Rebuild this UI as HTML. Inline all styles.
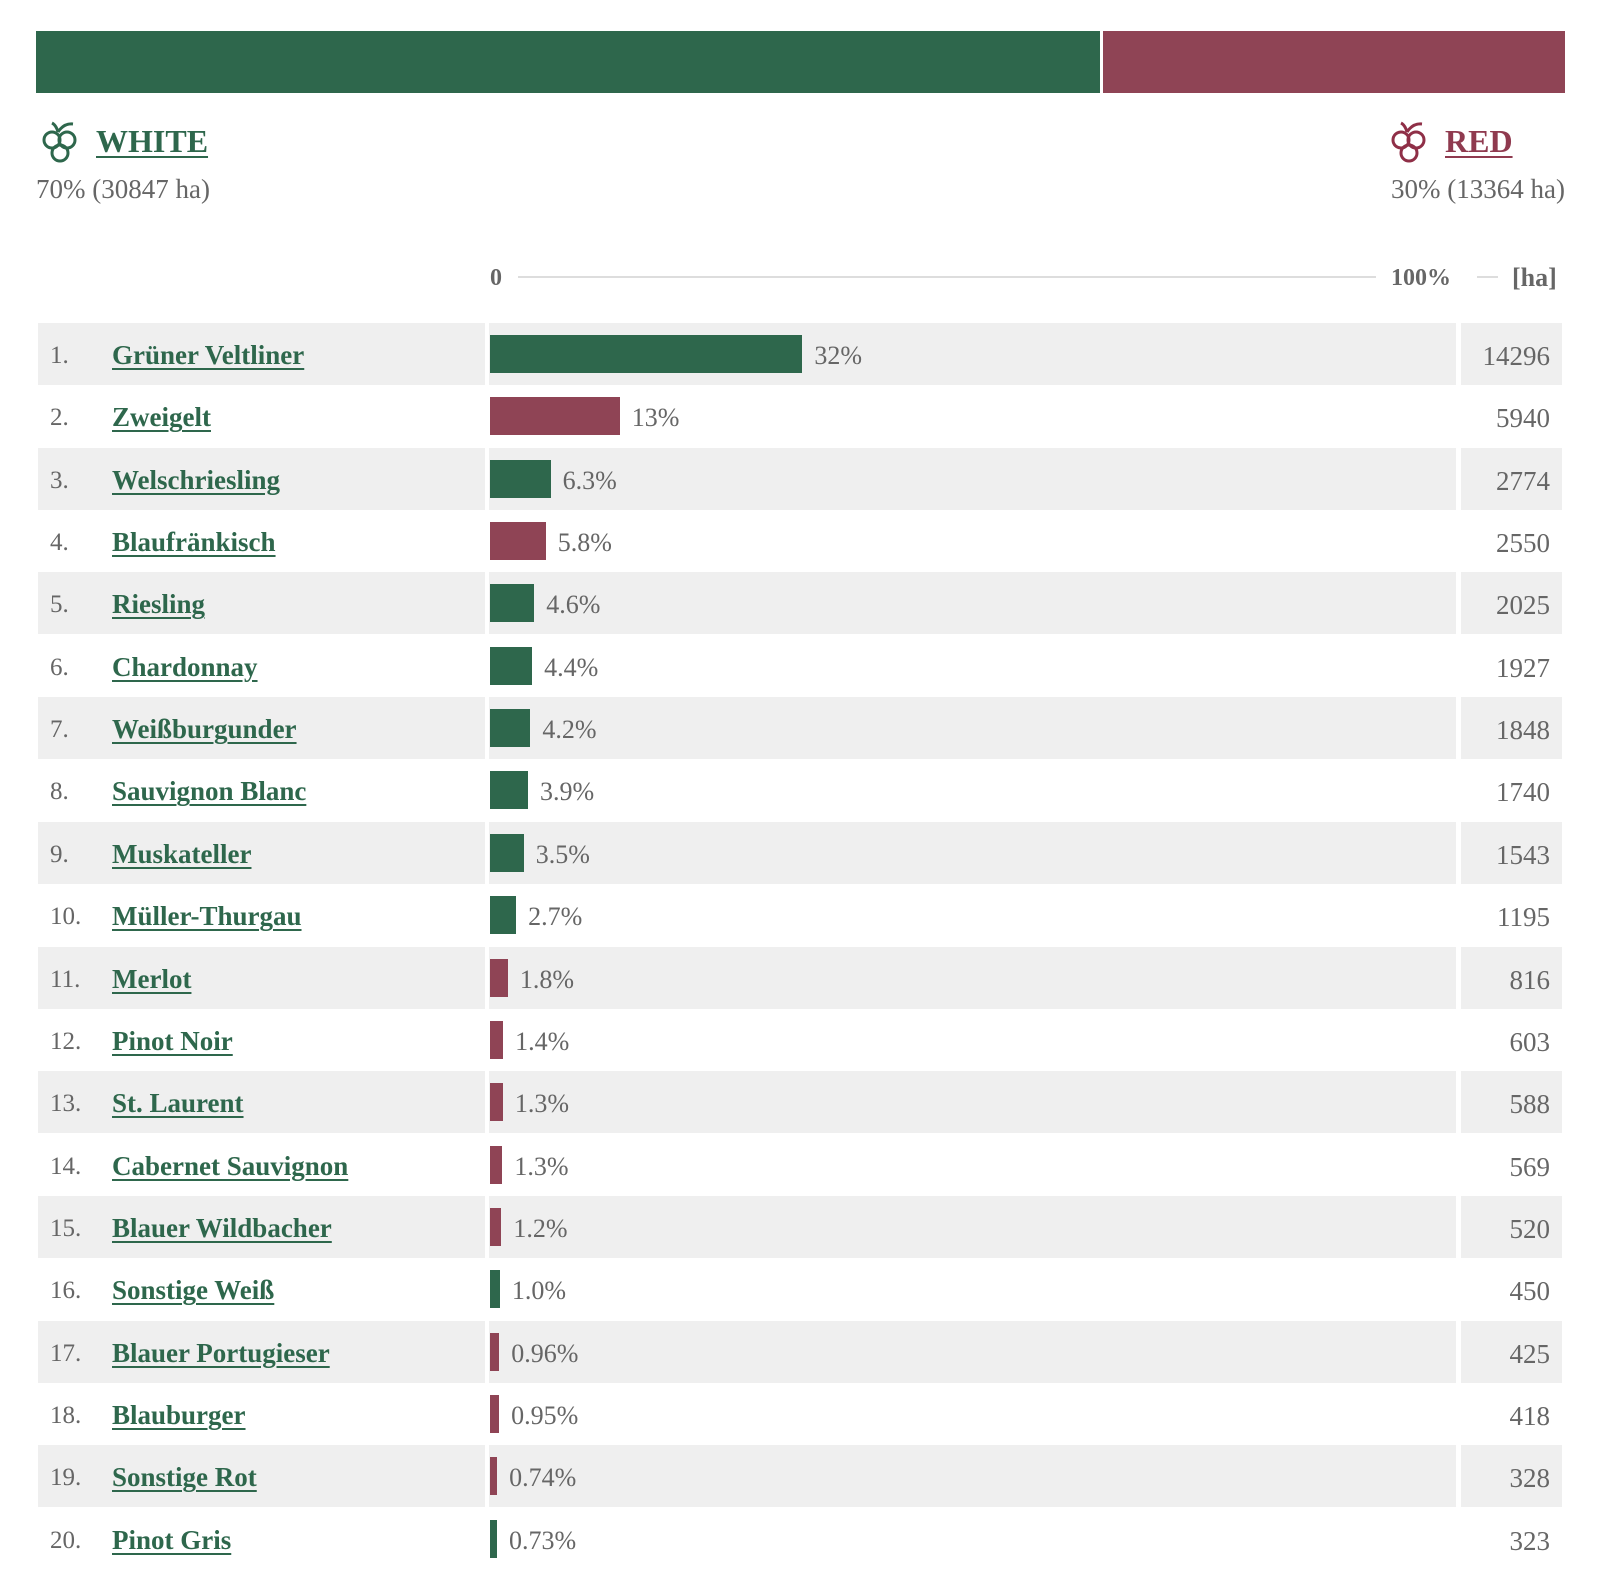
<!DOCTYPE html>
<html><head><meta charset="utf-8"><style>
*{margin:0;padding:0;box-sizing:border-box}
body{width:1600px;height:1571px;background:#fff;position:relative;overflow:hidden;font-family:"Liberation Serif","DejaVu Serif",serif;color:#595959}
.a{position:absolute}
.g{color:#2e674c}.r{color:#8f3a4f}
.hd{font-size:32px;font-weight:bold;text-decoration:underline;text-decoration-thickness:2px;text-underline-offset:4px;line-height:36px}
.sub{font-size:27px;line-height:30px;color:#666}
.row{position:absolute;left:0;width:1600px;height:62px}
.row .c1,.row .c2,.row .c3{position:absolute;top:0;height:62px}
.c1{left:38px;width:447px}.c2{left:489px;width:967px}.c3{left:1461px;width:101px}
.gr .c1,.gr .c2,.gr .c3{background:#efefef}
.num{position:absolute;left:12px;top:2px;line-height:62px;font-size:25px;color:#666}
.nm{position:absolute;left:74px;top:2px;line-height:60px;font-size:27px;font-weight:bold;color:#2e674c;text-decoration:underline;text-decoration-thickness:2px;text-underline-offset:4px}
.bar{position:absolute;left:1px;top:12px;height:38px}
.pct{position:absolute;top:2px;line-height:62px;font-size:26px;color:#666}
.val{position:absolute;right:12px;top:2px;line-height:62px;font-size:27px;color:#666}
</style></head><body>
<div class="a" style="left:36px;top:31px;width:1064px;height:62px;background:#2e674c"></div>
<div class="a" style="left:1103px;top:31px;width:462px;height:62px;background:#8f4455"></div>

<svg class="a" style="left:40px;top:120px" width="42" height="44" viewBox="0 0 42 44" fill="none" stroke="#2e674c" stroke-width="3"><circle cx="12" cy="20" r="8"/><circle cx="27" cy="20" r="8"/><circle cx="20" cy="33" r="8"/><path d="M18 12 Q16 5 12 3 M18 12 Q24 3 33 4"/></svg>
<div class="a hd g" style="left:96px;top:123px">WHITE</div>
<div class="a sub" style="left:36px;top:174px">70% (30847 ha)</div>

<svg class="a" style="left:1389px;top:120px" width="42" height="44" viewBox="0 0 42 44" fill="none" stroke="#8f2f47" stroke-width="3"><circle cx="12" cy="20" r="8"/><circle cx="27" cy="20" r="8"/><circle cx="20" cy="33" r="8"/><path d="M18 12 Q16 5 12 3 M18 12 Q24 3 33 4"/></svg>
<div class="a hd r" style="left:1445px;top:123px;color:#8f3a4f">RED</div>
<div class="a sub" style="left:1300px;top:174px;width:265px;text-align:right">30% (13364 ha)</div>

<div class="a" style="left:490px;top:263px;font-size:24px;font-weight:bold;color:#666;line-height:30px">0</div>
<div class="a" style="left:518px;top:276px;width:858px;height:2px;background:#ddd"></div>
<div class="a" style="left:1391px;top:263px;font-size:24px;font-weight:bold;color:#666;line-height:30px">100%</div>
<div class="a" style="left:1477px;top:276px;width:21px;height:2px;background:#ddd"></div>
<div class="a" style="left:1512px;top:263px;font-size:26px;font-weight:bold;color:#666;line-height:30px">[ha]</div>

<div id="rows"></div>
<script>
var d=[["Grüner Veltliner",14296,"32%",0],["Zweigelt",5940,"13%",1],["Welschriesling",2774,"6.3%",0],["Blaufränkisch",2550,"5.8%",1],["Riesling",2025,"4.6%",0],["Chardonnay",1927,"4.4%",0],["Weißburgunder",1848,"4.2%",0],["Sauvignon Blanc",1740,"3.9%",0],["Muskateller",1543,"3.5%",0],["Müller-Thurgau",1195,"2.7%",0],["Merlot",816,"1.8%",1],["Pinot Noir",603,"1.4%",1],["St. Laurent",588,"1.3%",1],["Cabernet Sauvignon",569,"1.3%",1],["Blauer Wildbacher",520,"1.2%",1],["Sonstige Weiß",450,"1.0%",0],["Blauer Portugieser",425,"0.96%",1],["Blauburger",418,"0.95%",1],["Sonstige Rot",328,"0.74%",1],["Pinot Gris",323,"0.73%",0]];
var h="";
d.forEach(function(r,i){
 var w=Math.max(r[1]/44211*966,6.5);
 var top=323+i*62.35;
 h+='<div class="row '+(i%2==0?'gr':'')+'" style="top:'+top+'px">'+
 '<div class="c1"><span class="num">'+(i+1)+'.</span><span class="nm">'+r[0]+'</span></div>'+
 '<div class="c2"><div class="bar" style="width:'+w+'px;background:'+(r[3]?'#8f4455':'#2e674c')+'"></div><span class="pct" style="left:'+(w+13)+'px">'+r[2]+'</span></div>'+
 '<div class="c3"><span class="val">'+r[1]+'</span></div></div>';
});
document.getElementById('rows').innerHTML=h;
</script>
</body></html>
